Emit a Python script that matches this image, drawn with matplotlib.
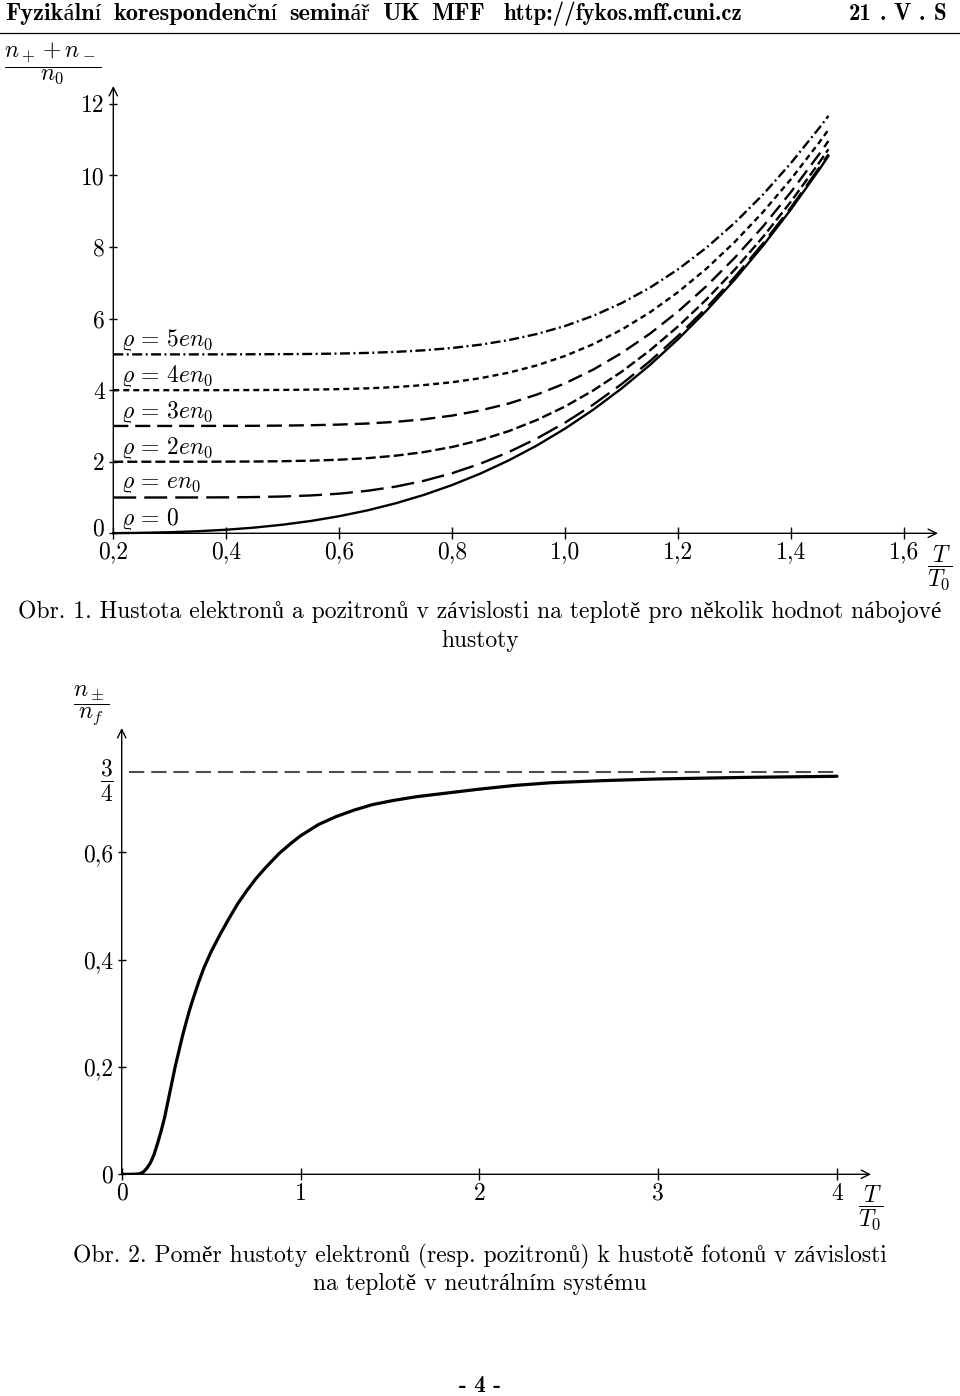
import matplotlib
matplotlib.use('Agg')
import matplotlib.pyplot as plt
from matplotlib.lines import Line2D
from matplotlib.transforms import ScaledTranslation

################################################
######## DATA ##################################
################################################
# Obr. 1 -- (n+ + n-)/n0 against T/T0 for several charge densities
T_TOP = [0.2, 0.25, 0.3, 0.35, 0.4, 0.45, 0.5, 0.55, 0.6, 0.65, 0.7, 0.75, 0.8, 0.85,
         0.9, 0.95, 1.0, 1.05, 1.1, 1.15, 1.2, 1.25, 1.3, 1.35, 1.4, 1.45, 1.466]
RHO_0 = [0.004, 0.013, 0.030, 0.058, 0.100, 0.160, 0.241, 0.345, 0.478, 0.641, 0.839, 1.074, 1.350, 1.670,
         2.037, 2.455, 2.928, 3.458, 4.049, 4.703, 5.427, 6.220, 7.088, 8.033, 9.059, 10.170, 10.543]
RHO_1 = [1.0, 1.0, 1.001, 1.002, 1.005, 1.013, 1.029, 1.058, 1.108, 1.188, 1.305, 1.468, 1.680, 1.947,
         2.269, 2.651, 3.094, 3.600, 4.171, 4.808, 5.519, 6.300, 7.158, 8.095, 9.114, 10.219, 10.590]
RHO_2 = [2.0, 2.0, 2.0, 2.001, 2.003, 2.006, 2.015, 2.030, 2.056, 2.100, 2.169, 2.270, 2.413, 2.606,
         2.855, 3.167, 3.546, 3.995, 4.516, 5.111, 5.784, 6.534, 7.365, 8.278, 9.277, 10.365, 10.731]
RHO_3 = [3.0, 3.0, 3.0, 3.001, 3.002, 3.004, 3.010, 3.020, 3.038, 3.068, 3.115, 3.186, 3.290, 3.434,
         3.626, 3.877, 4.192, 4.578, 5.039, 5.578, 6.201, 6.906, 7.697, 8.570, 9.543, 10.603, 10.962]
RHO_4 = [4.0, 4.0, 4.0, 4.0, 4.001, 4.003, 4.007, 4.015, 4.029, 4.051, 4.087, 4.142, 4.222, 4.335,
         4.489, 4.693, 4.957, 5.288, 5.692, 6.174, 6.742, 7.395, 8.139, 8.974, 9.903, 10.929, 11.276]
RHO_5 = [5.0, 5.0, 5.0, 5.0, 5.001, 5.003, 5.006, 5.012, 5.023, 5.041, 5.070, 5.114, 5.179, 5.271,
         5.399, 5.570, 5.794, 6.080, 6.434, 6.864, 7.379, 7.981, 8.674, 9.463, 10.353, 11.332, 11.664]
RHO_VALUES = [0, 1, 2, 3, 4, 5]
RHO_LABELS = [r'$\varrho \,=\, 0$', r'$\varrho \,=\, en_0$', r'$\varrho \,=\, 2en_0$',
              r'$\varrho \,=\, 3en_0$', r'$\varrho \,=\, 4en_0$', r'$\varrho \,=\, 5en_0$']
TOP_XTICKS = [0.2, 0.4, 0.6, 0.8, 1.0, 1.2, 1.4, 1.6]
TOP_XLABELS = ['0,2', '0,4', '0,6', '0,8', '1,0', '1,2', '1,4', '1,6']
TOP_YTICKS = [0, 2, 4, 6, 8, 10, 12]
TOP_YLABELS = ['0', '2', '4', '6', '8', '10', '12']

# Obr. 2 -- n+-/nf against T/T0 in a neutral system
T_BOT = [0.0, 0.05, 0.08, 0.10, 0.12, 0.14, 0.16, 0.18, 0.20, 0.22, 0.24, 0.26, 0.28, 0.30,
         0.32, 0.34, 0.36, 0.38, 0.40, 0.43, 0.46, 0.50, 0.55, 0.60, 0.65, 0.70, 0.75, 0.80,
         0.88, 0.95, 1.00, 1.10, 1.20, 1.30, 1.40, 1.52, 1.65, 1.80, 2.00, 2.20, 2.40, 2.70,
         3.00, 3.50, 4.00]
RATIO = [0.0, 0.0, 0.0003, 0.001, 0.004, 0.011, 0.021, 0.036, 0.057, 0.080, 0.106, 0.138, 0.170, 0.202,
         0.230, 0.258, 0.283, 0.307, 0.328, 0.358, 0.385, 0.415, 0.447, 0.477, 0.505, 0.529, 0.551, 0.570,
         0.598, 0.618, 0.631, 0.652, 0.667, 0.679, 0.689, 0.697, 0.704, 0.710, 0.718, 0.725, 0.730, 0.734,
         0.737, 0.740, 0.742]
LIMIT = 0.75
BOT_XTICKS = [0, 1, 2, 3, 4]
BOT_XLABELS = ['0', '1', '2', '3', '4']
BOT_YTICKS = [0, 0.2, 0.4, 0.6, 0.75]
BOT_YLABELS = ['0', '0,2', '0,4', '0,6', r'$\dfrac{3}{4}$']

################################################
W, H = 960, 1396
FS = 17
HFS = 16.5
plt.rcParams['font.family'] = ['cmr10', 'Liberation Serif']
plt.rcParams['mathtext.fontset'] = 'cm'
plt.rcParams['axes.formatter.use_mathtext'] = True
plt.rcParams['lines.scale_dashes'] = False

fig = plt.figure(figsize=(W / 100, H / 100), dpi=100)
renderer = fig.canvas.get_renderer()


def px(x, y):
    # pixel position (from top left) -> figure fraction
    return x / W, 1 - y / H


def axes_px(left, top, right, bottom):
    return fig.add_axes([left / W, 1 - bottom / H, (right - left) / W, (bottom - top) / H])


def justify(words, x0, x1, y, **kw):
    # spread words between x0 and x1 like a justified TeX line
    texts = [fig.text(*px(x0, y), w, ha='left', va='center', **kw) for w in words]
    widths = [t.get_window_extent(renderer).width for t in texts]
    gap = (x1 - x0 - sum(widths)) / (len(words) - 1)
    x = x0
    for t, w in zip(texts, widths):
        t.set_position(px(x, y))
        x += w + gap


def arrow_axes(ax, x0, x1, y0, y1):
    for s in ax.spines.values():
        s.set_visible(False)
    kw = dict(arrowstyle='->,head_length=0.6,head_width=0.3', lw=1.0, color='black',
              shrinkA=0, shrinkB=0, mutation_scale=10)
    ax.annotate('', xy=(x1, y0), xytext=(x0, y0), arrowprops=kw, annotation_clip=False)
    ax.annotate('', xy=(x0, y1), xytext=(x0, y0), arrowprops=kw, annotation_clip=False)
    ax.tick_params(axis='x', direction='inout', length=8, width=1.0, pad=2, labelsize=FS)
    ax.tick_params(axis='y', direction='inout', length=6, width=1.0, pad=3, labelsize=FS)


# header
HFONT = ['cmb10', 'Liberation Serif']
justify(['Fyzikální', 'korespondenční', 'seminář', 'UK', 'MFF'], 5, 485, 14,
        family=HFONT, fontsize=17.5)
fig.text(*px(623, 14), 'http://fykos.mff.cuni.cz', family=HFONT,
         fontsize=HFS, ha='center', va='center')
justify(['21', '.', 'V', '.', 'S'], 849, 946, 14, family=HFONT, fontsize=HFS)
fig.add_artist(Line2D([0, 1], [1 - 33 / H] * 2, color='black', lw=0.9))

# ---------------- Obr. 1 ----------------
ax1 = axes_px(113.3, 86, 938, 533.3)
ax1.set_xlim(0.2, 1.66)
ax1.set_ylim(0, 12.5)
arrow_axes(ax1, 0.2, 1.66, 0, 12.5)

styles = [
    dict(ls='-'),
    dict(dashes=(16.5, 5.8)),
    dict(dashes=(7.2, 2.9)),
    dict(dashes=(10.8, 5.0)),
    dict(dashes=(4.3, 2.9)),
    dict(dashes=(7.2, 2.5, 1.4, 2.5)),
]
series = [RHO_0, RHO_1, RHO_2, RHO_3, RHO_4, RHO_5]
for vals, st in zip(series, styles):
    ax1.plot(T_TOP, vals, color='black', lw=1.7, clip_on=False, **st)
for rho, lab in zip(RHO_VALUES, RHO_LABELS):
    ax1.text(0.213, rho + 0.39, lab, fontsize=FS, ha='left', va='center')

ax1.set_xticks(TOP_XTICKS)
ax1.set_xticklabels(TOP_XLABELS)
ax1.set_yticks(TOP_YTICKS)
ax1.set_yticklabels(TOP_YLABELS)
# the "0" on the y axis sits a little higher, clear of "0,2"
lab0 = ax1.get_yticklabels()[0]
lab0.set_transform(lab0.get_transform() + ScaledTranslation(-1 / 100, 6 / 100, fig.dpi_scale_trans))

fig.text(*px(53, 64), r'$\dfrac{n_+ + n_-}{n_0}$', fontsize=FS, ha='center', va='center')
fig.text(*px(940, 568), r'$\dfrac{T}{T_0}$', fontsize=FS, ha='center', va='center')
fig.text(*px(480, 612), 'Obr. 1. Hustota elektronů a pozitronů v závislosti na teplotě pro několik hodnot nábojové',
         fontsize=FS, ha='center', va='center')
fig.text(*px(480, 641), 'hustoty', fontsize=FS, ha='center', va='center')

# ---------------- Obr. 2 ----------------
ax2 = axes_px(121.7, 728, 871, 1174.3)
ax2.set_xlim(0, 4.19)
ax2.set_ylim(0, 0.832)
arrow_axes(ax2, 0, 4.19, 0, 0.832)

ax2.plot([0.04, 4.0], [LIMIT, LIMIT], color='0.3', lw=1.5, dashes=(11, 5))
ax2.plot(T_BOT, RATIO, color='black', lw=2.3, solid_capstyle='round', solid_joinstyle='round')

ax2.set_xticks(BOT_XTICKS)
ax2.set_xticklabels(BOT_XLABELS)
ax2.set_yticks(BOT_YTICKS)
ax2.set_yticklabels(BOT_YLABELS)
ax2.yaxis.get_major_ticks()[-1].tick1line.set_visible(False)

fig.text(*px(91, 705), r'$\dfrac{n_\pm}{n_f}$', fontsize=FS, ha='center', va='center')
fig.text(*px(871, 1208), r'$\dfrac{T}{T_0}$', fontsize=FS, ha='center', va='center')
fig.text(*px(480, 1256), 'Obr. 2. Poměr hustoty elektronů (resp. pozitronů) k hustotě fotonů v závislosti',
         fontsize=FS, ha='center', va='center')
fig.text(*px(480, 1284), 'na teplotě v neutrálním systému', fontsize=FS, ha='center', va='center')

fig.text(*px(480, 1386), '- 4 -', family=HFONT, fontsize=HFS, ha='center', va='center')

fig.savefig('out.png', dpi=100)
